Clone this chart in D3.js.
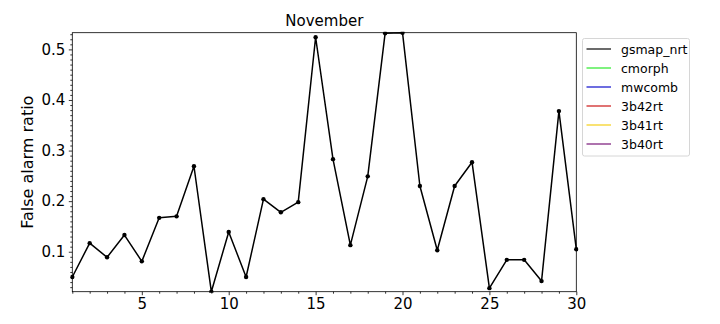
<!DOCTYPE html>
<html>
<head>
<meta charset="utf-8">
<script src="https://cdn.jsdelivr.net/npm/d3@7"></script>
<style>
  body { margin: 0; background: #fff; }
  svg { font-family: "DejaVu Sans", sans-serif; }
</style>
</head>
<body>
<svg></svg>
<script>
// data
let days = d3.range(1, 31);
let gsmapNrt = [0.050, 0.117, 0.089, 0.133, 0.081, 0.167, 0.170, 0.269, 0.021, 0.139,
                0.050, 0.204, 0.178, 0.198, 0.524, 0.283, 0.113, 0.249, 0.532, 0.533,
                0.230, 0.103, 0.230, 0.277, 0.028, 0.084, 0.084, 0.042, 0.378, 0.105];
let seriesNames = ['gsmap_nrt', 'cmorph', 'mwcomb', '3b42rt', '3b41rt', '3b40rt'];
let seriesColors = ['#3a3a3a', '#55ee55', '#3c3cd6', '#d64444', '#f7d944', '#934593'];
let xTicks = [5, 10, 15, 20, 25, 30];
let yTicks = [0.1, 0.2, 0.3, 0.4, 0.5];

let width = 720;
let height = 324;
let margin = {left: 72.3, right: 143.7, top: 32.7, bottom: 32.3};

let svg = d3.select('svg')
    .attr('width', width)
    .attr('height', height);

let xScale = d3.scaleLinear()
    .domain([1, 30])
    .range([margin.left, width - margin.right]);

let yScale = d3.scaleLinear()
    .domain([d3.min(gsmapNrt), d3.max(gsmapNrt)])
    .range([height - margin.bottom, margin.top]);

// clip so the line stays in the axes box
svg.append('clipPath').attr('id', 'clip')
    .append('rect')
    .attr('x', margin.left - 2)
    .attr('y', margin.top - 1)
    .attr('width', width - margin.left - margin.right + 4)
    .attr('height', height - margin.top - margin.bottom + 2);

let line = d3.line()
    .x((d, i) => xScale(days[i]))
    .y((d) => yScale(d));

let plot = svg.append('g').attr('clip-path', 'url(#clip)');

plot.append('path')
    .datum(gsmapNrt)
    .attr('d', line)
    .attr('fill', 'none')
    .attr('stroke', '#000')
    .attr('stroke-width', 1.5)
    .attr('stroke-linejoin', 'round');

plot.selectAll('circle')
    .data(gsmapNrt)
    .enter()
    .append('circle')
    .attr('cx', (d, i) => xScale(days[i]))
    .attr('cy', (d) => yScale(d))
    .attr('r', 2.2)
    .attr('fill', '#000');

// axes
let xAxis = d3.axisBottom(xScale).tickValues(xTicks).tickSize(3.5).tickPadding(3.5).tickFormat(d3.format('d'));
let xMinor = d3.axisBottom(xScale).tickValues(days.filter(d => !xTicks.includes(d))).tickSize(2).tickFormat('');
let yAxis = d3.axisLeft(yScale).tickValues(yTicks).tickSize(3.5).tickPadding(3.5).tickFormat(d3.format('.1f'));
let yMinor = d3.axisLeft(yScale)
    .tickValues(d3.range(3, 54).map(v => v / 100).filter(v => Math.round(v * 100) % 10 !== 0))
    .tickSize(2).tickFormat('');

svg.append('g')
    .attr('transform', 'translate(0,' + (height - margin.bottom) + ')')
    .call(xAxis);
svg.append('g')
    .attr('transform', 'translate(0,' + (height - margin.bottom) + ')')
    .call(xMinor);
svg.append('g')
    .attr('transform', 'translate(' + margin.left + ',0)')
    .call(yAxis);
svg.append('g')
    .attr('transform', 'translate(' + margin.left + ',0)')
    .call(yMinor);

svg.selectAll('.domain').remove();
svg.selectAll('.tick line').attr('stroke', '#000').attr('stroke-width', 0.8);
svg.selectAll('.tick text')
    .attr('fill', '#000')
    .style('font-family', '"DejaVu Sans", sans-serif')
    .style('font-size', '15px');

// axes frame
svg.append('rect')
    .attr('x', margin.left)
    .attr('y', margin.top)
    .attr('width', width - margin.left - margin.right)
    .attr('height', height - margin.top - margin.bottom)
    .attr('fill', 'none')
    .attr('stroke', '#000')
    .attr('stroke-width', 0.8);

// title and label
svg.append('text')
    .attr('x', (margin.left + width - margin.right) / 2)
    .attr('y', 26)
    .attr('text-anchor', 'middle')
    .style('font-size', '15px')
    .text('November');

svg.append('text')
    .attr('transform', 'translate(33,' + ((margin.top + height - margin.bottom) / 2) + ') rotate(-90)')
    .attr('text-anchor', 'middle')
    .style('font-size', '16px')
    .text('False alarm ratio');

// legend
let legend = svg.append('g');
legend.append('rect')
    .attr('x', 582.5)
    .attr('y', 38.5)
    .attr('width', 107)
    .attr('height', 117.5)
    .attr('rx', 2)
    .attr('fill', '#fff')
    .attr('stroke', '#d6d6d6')
    .attr('stroke-width', 1);

let items = legend.selectAll('.item')
    .data(seriesNames)
    .enter()
    .append('g')
    .attr('transform', (d, i) => 'translate(0,' + (49 + i * 19) + ')');

items.append('line')
    .attr('x1', 586.5)
    .attr('x2', 611)
    .attr('stroke', (d, i) => seriesColors[i])
    .attr('stroke-width', 1.5);

items.append('text')
    .attr('x', 621)
    .attr('y', 4.5)
    .style('font-size', '12.5px')
    .text((d) => d);
</script>
</body>
</html>
